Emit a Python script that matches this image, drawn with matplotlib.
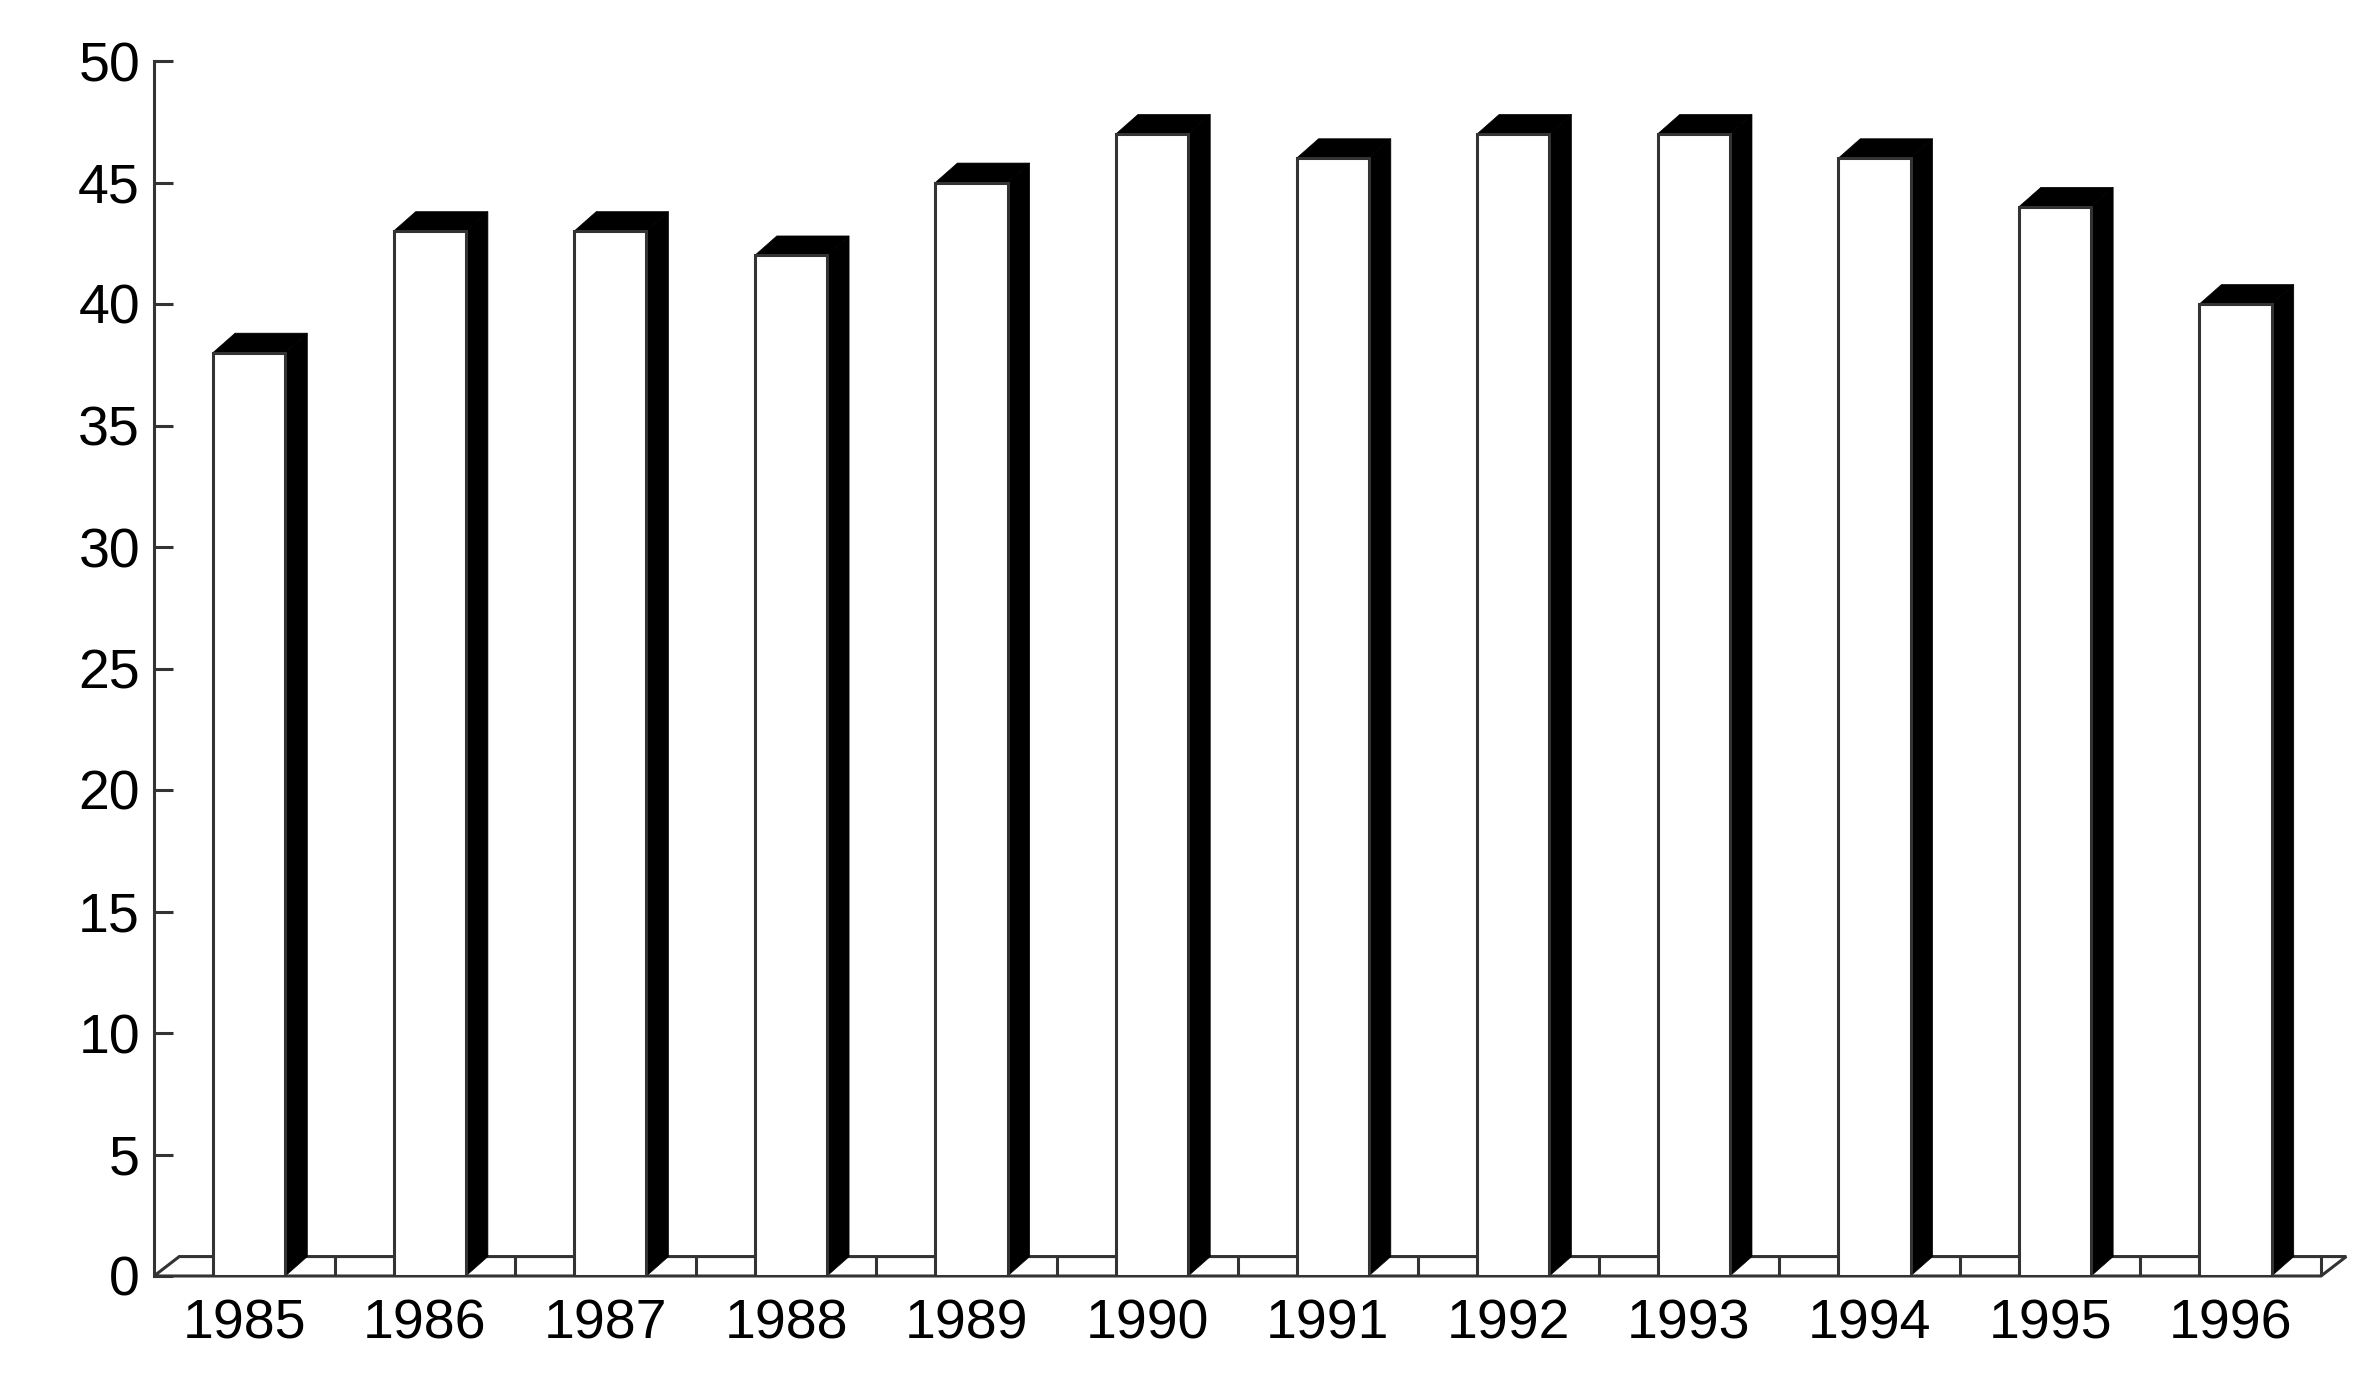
import matplotlib
matplotlib.use("Agg")
import matplotlib.pyplot as plt
from matplotlib.patches import Polygon

# --[data]---------------------------------------------------------------------
years = ['1985', '1986', '1987', '1988', '1989', '1990',
         '1991', '1992', '1993', '1994', '1995', '1996']
values = [38, 43, 43, 42, 45, 47, 46, 47, 47, 46, 44, 40]
y_ticks = [0, 5, 10, 15, 20, 25, 30, 35, 40, 45, 50]

# --[style]--------------------------------------------------------------------
plt.rcParams['font.family'] = ['Liberation Sans', 'DejaVu Sans']
line_col = '#333333'
lw = 2.2
bar_off, bar_w = 0.327, 0.4      # front face inside each category slot
dx, dy = 0.122, 0.80             # 3d depth offset (data units)
dx_floor = 0.14

W, H = 2361, 1392
fig = plt.figure(figsize=(W / 100, H / 100), dpi=100)
ax = fig.add_axes([154 / W, (H - 1276) / H, 2167 / W, 1215 / H])
ax.set_xlim(0, len(years))
ax.set_ylim(0, 50)

# --[floor]--------------------------------------------------------------------
n = len(years)
floor = Polygon([(0, 0), (dx_floor, dy), (n + dx_floor, dy), (n, 0)],
                closed=True, facecolor='white', edgecolor=line_col,
                linewidth=lw, zorder=1, clip_on=False)
ax.add_patch(floor)
for k in range(1, n + 1):
    ax.plot([k, k], [0, dy], color=line_col, linewidth=lw, zorder=1.5,
            clip_on=False, solid_capstyle='butt')

# --[bars]---------------------------------------------------------------------
for i, v in enumerate(values):
    x0 = i + bar_off
    x1 = x0 + bar_w
    side = Polygon([(x1, 0), (x1 + dx, dy), (x1 + dx, v + dy), (x1, v)],
                   closed=True, facecolor='black', edgecolor='black',
                   linewidth=0.5, zorder=2, clip_on=False)
    top = Polygon([(x0, v), (x0 + dx, v + dy), (x1 + dx, v + dy), (x1, v)],
                  closed=True, facecolor='black', edgecolor='black',
                  linewidth=0.5, zorder=2, clip_on=False)
    ax.add_patch(side)
    ax.add_patch(top)
ax.bar([i + bar_off for i in range(n)], values, width=bar_w, align='edge',
       color='white', edgecolor=line_col, linewidth=lw, zorder=3)

# --[axes]---------------------------------------------------------------------
for s in ['top', 'right', 'bottom']:
    ax.spines[s].set_visible(False)
ax.spines['left'].set_linewidth(lw)
ax.spines['left'].set_color(line_col)
ax.set_yticks(y_ticks)
ax.tick_params(axis='y', direction='in', length=13.7, width=lw,
               color=line_col, pad=10, labelsize=40)
ax.set_xticks([i + 0.5 for i in range(n)])
ax.set_xticklabels(years)
ax.tick_params(axis='x', length=0, pad=16, labelsize=40)

fig.savefig('out.png', dpi=100, facecolor='white')
